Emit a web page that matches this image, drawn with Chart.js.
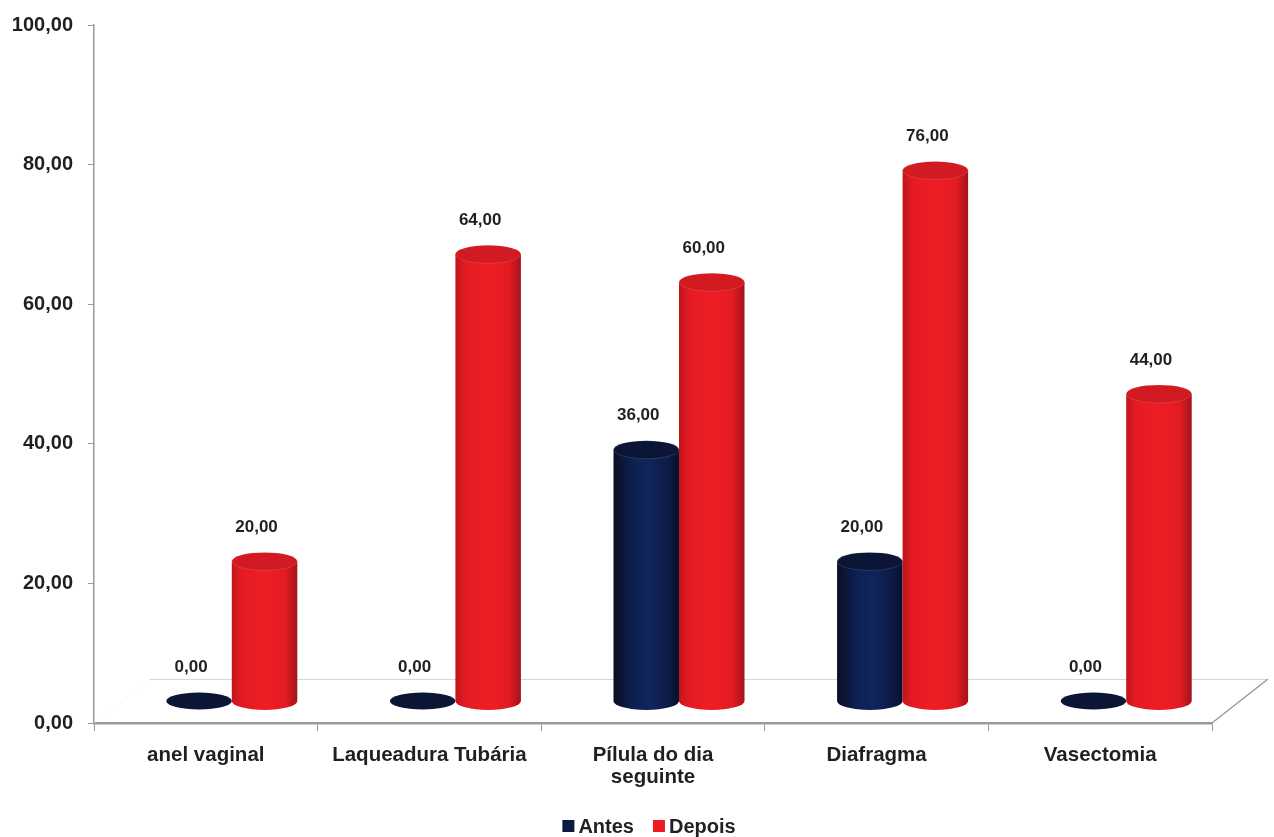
<!DOCTYPE html>
<html>
<head>
<meta charset="utf-8">
<script src="https://cdn.jsdelivr.net/npm/chart.js@4"></script>
<style>
  html, body { margin: 0; padding: 0; background: #fff; }
  #wrap { width: 1274px; height: 837px; position: relative; }
</style>
</head>
<body>
<div id="wrap"><canvas id="c"></canvas></div>
<script>
// Categories and values
const categories = ['anel vaginal', 'Laqueadura Tubária', ['Pílula do dia', 'seguinte'], 'Diafragma', 'Vasectomia'];
const antes = [0, 0, 36, 20, 0];
const depois = [20, 64, 60, 76, 44];
const seriesNames = ['Antes', 'Depois'];

const Y_MIN = 0, Y_MAX = 100, Y_STEP = 20;

const FONT = "'Liberation Sans', Arial, sans-serif";
const TEXT = '#231f20';
const AXIS = '#9a9a9a';

// 3D look: floor depth, cylinders sit roughly halfway in
const DEPTH_X = 56, DEPTH_Y = 44, CYL_DX = 26, ELL_RY = 9;

const fmt = v => v.toFixed(2).replace('.', ',');

const palette = [
  { solid: '#0c1a40', top: '#0b1636',
    stops: [[0, '#080f24'], [0.3, '#0e2052'], [0.55, '#10255e'], [0.85, '#0c1a44'], [1, '#08102a']] },
  { solid: '#ed1c24', top: '#d11a21',
    stops: [[0, '#bf151b'], [0.15, '#e41b23'], [0.5, '#ee1d25'], [0.82, '#e21b22'], [1, '#a3131a']] },
];

// floor decoration drawn under the cylinders
const floorPlugin = {
  id: 'floor',
  beforeDatasetsDraw(chart) {
    const { ctx, chartArea: a, scales: { y } } = chart;
    const y0 = y.getPixelForValue(0);
    ctx.save();
    // back edge of floor
    ctx.strokeStyle = '#d6d6d6';
    ctx.lineWidth = 1;
    ctx.beginPath();
    ctx.moveTo(a.left + DEPTH_X, y0 - DEPTH_Y + 0.5);
    ctx.lineTo(a.right + DEPTH_X, y0 - DEPTH_Y + 0.5);
    ctx.stroke();
    // right side of floor
    ctx.strokeStyle = AXIS;
    ctx.lineWidth = 1.5;
    ctx.beginPath();
    ctx.moveTo(a.right, y0);
    ctx.lineTo(a.right + DEPTH_X, y0 - DEPTH_Y);
    ctx.stroke();
    // left side, barely visible
    ctx.strokeStyle = '#e6e6e6';
    ctx.lineWidth = 1;
    ctx.setLineDash([1, 6]);
    ctx.beginPath();
    ctx.moveTo(a.left, y0);
    ctx.lineTo(a.left + DEPTH_X, y0 - DEPTH_Y);
    ctx.stroke();
    ctx.restore();
  },
  beforeDatasetDraw() { return false; }, // cylinders replace the flat bars
};

function drawCylinder(ctx, cx, rx, topY, baseY, pal) {
  if (baseY - topY < 0.5) {
    ctx.fillStyle = pal.top;
    ctx.beginPath();
    ctx.ellipse(cx, baseY, rx, ELL_RY - 0.5, 0, 0, Math.PI * 2);
    ctx.fill();
    return;
  }
  const g = ctx.createLinearGradient(cx - rx, 0, cx + rx, 0);
  pal.stops.forEach(([o, c]) => g.addColorStop(o, c));
  ctx.fillStyle = g;
  ctx.beginPath();
  ctx.moveTo(cx - rx, topY);
  ctx.lineTo(cx - rx, baseY);
  ctx.ellipse(cx, baseY, rx, ELL_RY, 0, Math.PI, 0, true);
  ctx.lineTo(cx + rx, topY);
  ctx.closePath();
  ctx.fill();
  ctx.fillStyle = pal.top;
  ctx.beginPath();
  ctx.ellipse(cx, topY, rx, ELL_RY, 0, 0, Math.PI * 2);
  ctx.fill();
  ctx.strokeStyle = 'rgba(255,255,255,0.12)';
  ctx.lineWidth = 1;
  ctx.stroke();
}

const cylinderPlugin = {
  id: 'cylinders',
  afterDatasetsDraw(chart) {
    const { ctx, scales: { y } } = chart;
    const y0 = y.getPixelForValue(0) - DEPTH_Y / 2;
    ctx.save();
    const metas = chart.data.datasets.map((d, i) => chart.getDatasetMeta(i));
    categories.forEach((cat, j) => {
      metas.forEach((meta, i) => {
        const bar = meta.data[j];
        const v = chart.data.datasets[i].data[j];
        const topY = y.getPixelForValue(v) - DEPTH_Y / 2;
        drawCylinder(ctx, bar.x + CYL_DX, bar.width / 2, topY, y0, palette[i]);
      });
    });
    // value labels
    ctx.fillStyle = TEXT;
    ctx.font = 'bold 17px ' + FONT;
    ctx.textAlign = 'center';
    ctx.textBaseline = 'middle';
    metas.forEach((meta, i) => {
      meta.data.forEach((bar, j) => {
        const v = chart.data.datasets[i].data[j];
        const topY = y.getPixelForValue(v) - DEPTH_Y / 2;
        ctx.fillText(fmt(v), bar.x + CYL_DX - 8, topY - 34);
      });
    });
    ctx.restore();
  },
};

// legend: small square, tight gap to the name, centred under the plot
const legendPlugin = {
  id: 'bottomLegend',
  afterDraw(chart) {
    const { ctx, chartArea: a } = chart;
    const sets = chart.data.datasets;
    const box = 12, gap = 4, between = 19;
    ctx.save();
    ctx.font = 'bold 20px ' + FONT;
    const widths = sets.map(d => box + gap + ctx.measureText(d.label).width);
    const total = widths.reduce((s, w) => s + w, 0) + between * (sets.length - 1);
    let x = (a.left + a.right) / 2 - 4 - total / 2;
    const cy = 826;
    ctx.textBaseline = 'middle';
    ctx.textAlign = 'left';
    sets.forEach((d, i) => {
      ctx.fillStyle = d.backgroundColor;
      ctx.fillRect(x, cy - 6, box, box);
      ctx.fillStyle = TEXT;
      ctx.fillText(d.label, x + box + gap, cy + 1);
      x += widths[i] + between;
    });
    ctx.restore();
  },
};

new Chart(document.getElementById('c'), {
  type: 'bar',
  data: {
    labels: categories,
    datasets: [
      { label: seriesNames[0], data: antes, backgroundColor: palette[0].solid },
      { label: seriesNames[1], data: depois, backgroundColor: palette[1].solid },
    ],
  },
  options: {
    responsive: true,
    maintainAspectRatio: false,
    animation: false,
    categoryPercentage: 0.586,
    barPercentage: 1,
    layout: { padding: { top: 24, right: 62, left: 0, bottom: 0 } },
    plugins: {
      legend: { display: false },
      tooltip: { enabled: false },
    },
    scales: {
      x: {
        grid: { drawOnChartArea: false, drawTicks: true, tickLength: 8, color: AXIS, offset: true },
        border: { display: true, color: AXIS, width: 2.5 },
        ticks: {
          color: TEXT,
          font: { family: FONT, size: 20.5, weight: 'bold', lineHeight: 1.1 },
          padding: 13,
          maxRotation: 0,
          autoSkip: false,
        },
        afterFit: s => { s.height = 114; },
      },
      y: {
        min: Y_MIN, max: Y_MAX,
        grid: { drawOnChartArea: false, drawTicks: true, tickLength: 6, color: AXIS },
        border: { display: true, color: AXIS, width: 1.5 },
        ticks: {
          stepSize: Y_STEP,
          color: TEXT,
          font: { family: FONT, size: 20, weight: 'bold', lineHeight: 1 },
          padding: 15,
          callback: v => fmt(v),
        },
        afterFit: s => { s.width = 94; },
      },
    },
  },
  plugins: [floorPlugin, cylinderPlugin, legendPlugin],
});
</script>
</body>
</html>
